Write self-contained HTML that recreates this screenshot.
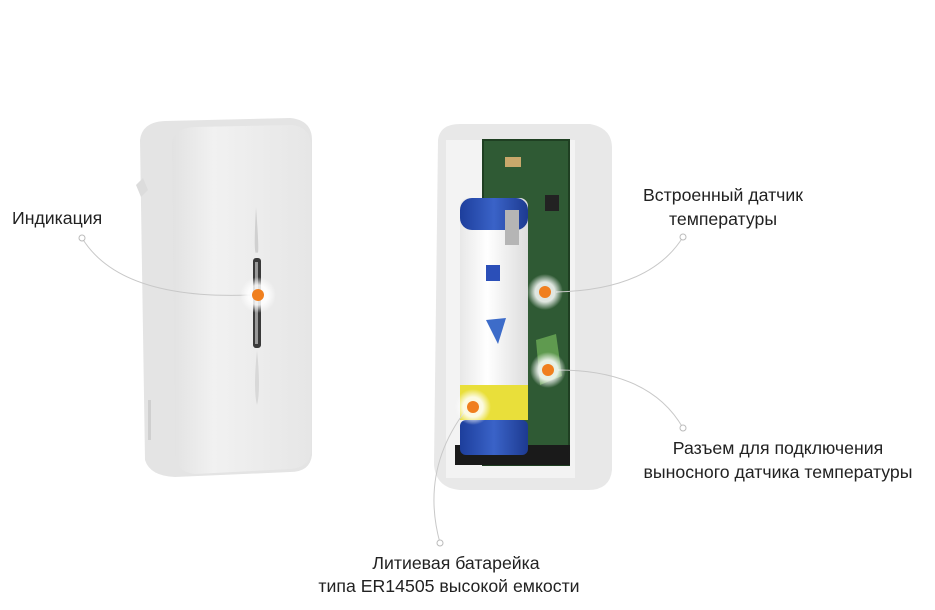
<!DOCTYPE html>
<html><head><meta charset="utf-8"><style>
html,body{margin:0;padding:0;background:#fff;width:935px;height:610px;overflow:hidden}
svg{display:block}
text{font-family:"Liberation Sans","DejaVu Sans",sans-serif;font-size:17.7px;fill:#222}
</style></head><body>
<svg width="935" height="610" viewBox="0 0 935 610">
<defs>
<linearGradient id="caseL" x1="0" x2="1"><stop offset="0" stop-color="#e2e2e2"/><stop offset="0.3" stop-color="#f1f1f1"/><stop offset="1" stop-color="#e6e6e6"/></linearGradient>
<linearGradient id="bat" x1="0" x2="1"><stop offset="0" stop-color="#e8e8e8"/><stop offset="0.4" stop-color="#ffffff"/><stop offset="1" stop-color="#dcdcdc"/></linearGradient>
<linearGradient id="blue" x1="0" x2="1"><stop offset="0" stop-color="#1d3e9c"/><stop offset="0.5" stop-color="#3a63c8"/><stop offset="1" stop-color="#1d3a90"/></linearGradient>
<radialGradient id="glow"><stop offset="0.55" stop-color="#fff" stop-opacity="0.85"/><stop offset="1" stop-color="#fff" stop-opacity="0"/></radialGradient>
</defs>
<path d="M140 140 Q142 122 165 121 L290 118 Q312 120 312 140 L312 455 Q310 472 290 472 L175 477 Q150 476 145 460 Z" fill="#e4e4e4"/>
<path d="M172 142 Q174 128 195 127 L292 125 Q310 127 311 145 L311 452 Q309 468 290 469 L195 474 Q176 472 175 455 Z" fill="url(#caseL)"/>
<path d="M136 185 L143 178 L148 190 L141 197 Z" fill="#dcdcdc"/>
<path d="M256 207 Q260 260 257 252 Q253 260 256 207 Z" fill="#d0d0d0"/>
<rect x="253" y="258" width="8" height="90" rx="3" fill="#3a3a3a"/>
<rect x="255" y="262" width="3" height="82" fill="#999"/>
<path d="M257 350 Q261 390 257 405 Q253 390 257 350Z" fill="#d8d8d8"/>
<rect x="148" y="400" width="3" height="40" fill="#cfcfcf"/>
<path d="M438 140 Q440 124 460 124 L590 124 Q612 128 612 148 L612 470 Q610 490 588 490 L460 490 Q436 488 434 465 Z" fill="#e8e8e8"/>
<path d="M446 140 L575 140 L575 478 L446 478 Z" fill="#f3f3f3"/>
<rect x="483" y="140" width="86" height="325" fill="#2f5a34"/>
<rect x="483" y="140" width="86" height="325" fill="none" stroke="#1f3f22" stroke-width="2"/>
<rect x="545" y="195" width="14" height="16" fill="#222"/>
<rect x="505" y="157" width="16" height="10" fill="#c9a86b"/>
<rect x="455" y="445" width="115" height="20" fill="#1a1a1a"/>
<path d="M536 340 L556 334 L562 376 L540 385 Z" fill="#5f9a4f"/>
<rect x="460" y="198" width="68" height="222" rx="8" fill="url(#bat)"/>
<rect x="460" y="198" width="68" height="32" rx="12" fill="url(#blue)"/>
<rect x="460" y="385" width="68" height="35" fill="#e9df3a"/>
<rect x="460" y="420" width="68" height="35" rx="6" fill="url(#blue)"/>
<rect x="505" y="210" width="14" height="35" fill="#b5b5b5"/>
<rect x="486" y="265" width="14" height="16" fill="#2b4fb8"/>
<path d="M486 320 L506 318 L498 344 Z" fill="#3d6cc9"/>
<g fill="none" stroke="#c8c8c8" stroke-width="1">
<path d="M82 238 Q120 300 250 295"/>
<path d="M683 237 Q650 290 556 292"/>
<path d="M683 428 Q650 370 558 370"/>
<path d="M440 543 Q420 470 466 410"/>
</g>
<g fill="#fff" stroke="#bbb" stroke-width="1">
<circle cx="82" cy="238" r="3"/><circle cx="683" cy="237" r="3"/><circle cx="683" cy="428" r="3"/><circle cx="440" cy="543" r="3"/>
</g>
<g>
<circle cx="258" cy="295" r="18" fill="url(#glow)"/><circle cx="258" cy="295" r="6" fill="#f07f1e"/>
<circle cx="545" cy="292" r="18" fill="url(#glow)"/><circle cx="545" cy="292" r="6" fill="#f07f1e"/>
<circle cx="548" cy="370" r="18" fill="url(#glow)"/><circle cx="548" cy="370" r="6" fill="#f07f1e"/>
<circle cx="473" cy="407" r="18" fill="url(#glow)"/><circle cx="473" cy="407" r="6" fill="#f07f1e"/>
</g>
<text x="12" y="224">Индикация</text>
<text x="723" y="201" text-anchor="middle">Встроенный датчик</text>
<text x="723" y="225" text-anchor="middle">температуры</text>
<text x="778" y="454" text-anchor="middle">Разъем для подключения</text>
<text x="778" y="478" text-anchor="middle">выносного датчика температуры</text>
<text x="456" y="569" text-anchor="middle">Литиевая батарейка</text>
<text x="449" y="592" text-anchor="middle">типа ER14505 высокой емкости</text>
</svg>
</body></html>
